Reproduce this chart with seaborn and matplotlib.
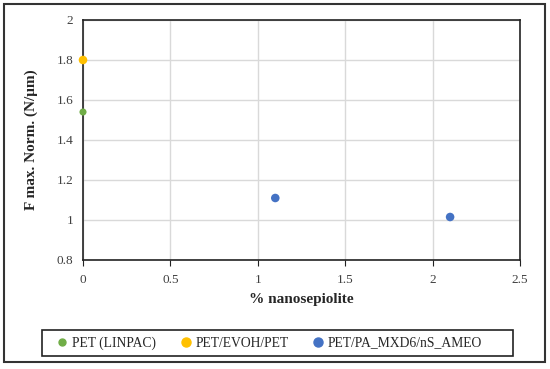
import seaborn as sns
import matplotlib.pyplot as plt
import pandas as pd
from matplotlib.patches import Rectangle

# values
series = ["PET (LINPAC)", "PET/EVOH/PET", "PET/PA_MXD6/nS_AMEO", "PET/PA_MXD6/nS_AMEO"]
nanosepiolite = [0, 0, 1.1, 2.1]
f_max_norm = [1.54, 1.80, 1.11, 1.015]
colors = {"PET (LINPAC)": "#70AD47", "PET/EVOH/PET": "#FFC000", "PET/PA_MXD6/nS_AMEO": "#4472C4"}
sizes = {"PET (LINPAC)": 26, "PET/EVOH/PET": 38, "PET/PA_MXD6/nS_AMEO": 38}

df = pd.DataFrame({"x": nanosepiolite, "y": f_max_norm, "series": series})

sns.set_style("white")
plt.rcParams["font.family"] = ["Liberation Serif", "DejaVu Serif"]

fig = plt.figure(figsize=(5.5, 3.69), dpi=100)
ax = fig.add_axes([0.1509, 0.2954, 0.7946, 0.6504])

sns.scatterplot(data=df, x="x", y="y", hue="series", palette=colors, size="series",
                sizes=sizes, edgecolor="none", ax=ax, legend=False, clip_on=False, zorder=5)

ax.set_xlim(0, 2.5)
ax.set_ylim(0.8, 2)
ax.set_xticks([0, 0.5, 1, 1.5, 2, 2.5])
ax.set_xticklabels(["0", "0.5", "1", "1.5", "2", "2.5"])
ax.set_yticks([0.8, 1, 1.2, 1.4, 1.6, 1.8, 2])
ax.set_yticklabels(["0.8", "1", "1.2", "1.4", "1.6", "1.8", "2"])
ax.grid(True, color="#d9d9d9", linewidth=1)
ax.set_axisbelow(True)
for s in ax.spines.values():
    s.set_color("#222222")
    s.set_linewidth(1.2)
ax.tick_params(axis="both", labelsize=9.5, colors="#404040", length=0, pad=7)
ax.tick_params(axis="x", bottom=True, length=4, color="#222222", pad=6)
ax.set_xlabel("% nanosepiolite", fontsize=11, fontweight="bold", labelpad=5)
ax.set_ylabel("F max. Norm. (N/\u03bcm)", fontsize=11, fontweight="bold", labelpad=13)

# legend entries, framed by a separate box
handles = [plt.Line2D([], [], marker="o", linestyle="", color=colors[k],
                      markersize=5 if k == "PET (LINPAC)" else 6.5)
           for k in colors]
fig.legend(handles, list(colors), loc="center", ncol=3,
           bbox_to_anchor=(268 / 550, 1 - 343 / 369),
           fontsize=9.8, frameon=False, handletextpad=0.1,
           handlelength=1.2, columnspacing=1.6)
fig.patches.append(Rectangle((42 / 550, 1 - 356 / 369), 471 / 550, 26 / 369,
                             transform=fig.transFigure, fill=False,
                             edgecolor="#222222", linewidth=1.2))

fig.patches.append(Rectangle((4 / 550, 1 - 362 / 369), 541 / 550, 358 / 369,
                             transform=fig.transFigure, fill=False,
                             edgecolor="#333333", linewidth=1.5))

fig.savefig("out.png", dpi=100)
